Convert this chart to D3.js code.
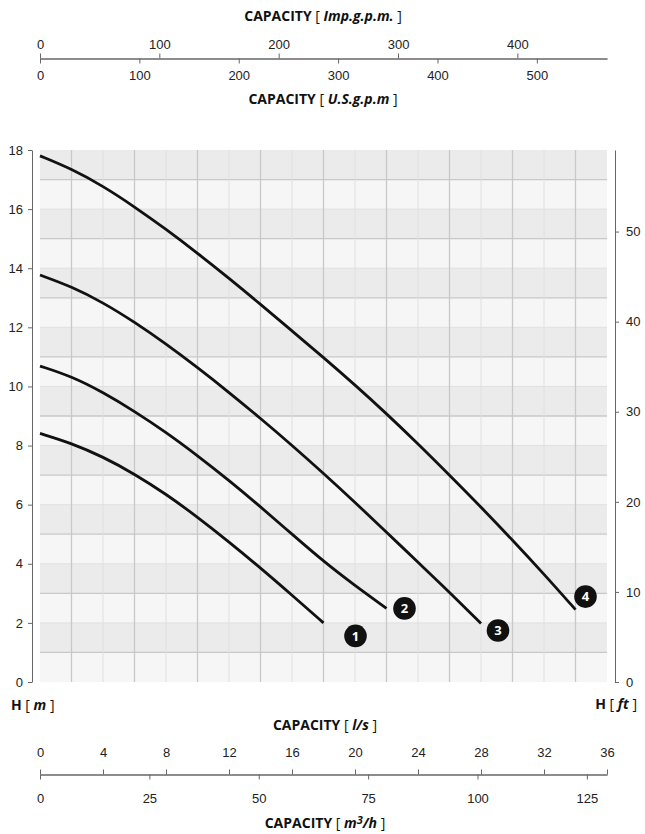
<!DOCTYPE html>
<html lang="en">
<head>
    <meta charset="UTF-8">
    <title>Pump curves - H / Q</title>
    <script src="https://cdnjs.cloudflare.com/ajax/libs/d3/7.8.5/d3.min.js"></script>
    <style>
        body {
            margin: 0;
            padding: 0;
            background: #fff;
            font-family: 'Open Sans', 'Noto Sans', Arial, sans-serif;
        }
        .tick text { font-size: 13px; fill: #222; }
        .axis path, .axis line { stroke: #666; stroke-width: 1; }
        .title { font-size: 14px; fill: #111; }
        .curve { fill: none; stroke: #111; stroke-width: 2.8; }
    </style>
</head>
<body>
<div id="chart"></div>
<script>
    // flow values in l/s, head values in m
    const q1 = [0, 2, 4, 6, 8, 10, 12, 14, 16, 18];
    const h1 = [8.41, 8.08, 7.62, 7.04, 6.36, 5.58, 4.74, 3.86, 2.94, 2.0];

    const q2 = [0, 2, 4, 6, 8, 10, 12, 14, 16, 18, 20, 22];
    const h2 = [10.69, 10.34, 9.8, 9.16, 8.45, 7.66, 6.82, 5.93, 5.0, 4.08, 3.26, 2.49];

    const q3 = [0, 2, 4, 6, 8, 10, 12, 14, 16, 18, 20, 22, 24, 26, 28];
    const h3 = [13.77, 13.38, 12.84, 12.18, 11.44, 10.64, 9.8, 8.92, 8.01, 7.06, 6.08, 5.07, 4.05, 3.04, 1.98];

    const q4 = [0, 2, 4, 6, 8, 10, 12, 14, 16, 18, 20, 22, 24, 26, 28, 30, 32, 34];
    const h4 = [17.8, 17.36, 16.78, 16.08, 15.32, 14.51, 13.66, 12.78, 11.88, 10.98, 10.05, 9.08, 8.06, 7.0, 5.92, 4.8, 3.65, 2.45];

    const curveNames = ["1", "2", "3", "4"];

    // tick labels of the five scales
    const impTicks = [0, 100, 200, 300, 400];
    const usTicks = [0, 100, 200, 300, 400, 500];
    const lsTicks = [0, 4, 8, 12, 16, 20, 24, 28, 32, 36];
    const m3hTicks = [0, 25, 50, 75, 100, 125];
    const mTicks = [0, 2, 4, 6, 8, 10, 12, 14, 16, 18];
    const ftTicks = [0, 10, 20, 30, 40, 50];

    const width = 645, height = 834;
    const plotLeft = 40, plotRight = 607, plotTop = 150, plotBottom = 682;

    const svg = d3.select("#chart").append("svg")
        .attr("width", width)
        .attr("height", height);

    // main scales (l/s and m), the others are unit conversions of these
    const qMax = 36, hMax = 18;
    const x = d3.scaleLinear().domain([0, qMax]).range([plotLeft, plotRight]);
    const y = d3.scaleLinear().domain([0, hMax]).range([plotBottom, plotTop]);
    const xImp = d3.scaleLinear().domain([0, qMax * 13.198]).range([plotLeft, plotRight]);
    const xUS = d3.scaleLinear().domain([0, qMax * 15.850]).range([plotLeft, plotRight]);
    const xM3 = d3.scaleLinear().domain([0, qMax * 3.6]).range([plotLeft, plotRight]);
    const yFt = d3.scaleLinear().domain([0, hMax / 0.3048]).range([plotBottom, plotTop]);

    // grid background: alternating bands of 1 m
    const grid = svg.append("g");
    grid.selectAll("rect")
        .data(d3.range(0, hMax))
        .enter().append("rect")
        .attr("x", plotLeft)
        .attr("width", plotRight - plotLeft)
        .attr("y", d => y(d + 1))
        .attr("height", d => y(d) - y(d + 1))
        .attr("fill", d => d % 2 === 1 ? "#ebebeb" : "#f6f6f6");

    grid.selectAll(".hline")
        .data(d3.range(1, hMax))
        .enter().append("line")
        .attr("class", "hline")
        .attr("x1", plotLeft).attr("x2", plotRight)
        .attr("y1", d => y(d)).attr("y2", d => y(d))
        .attr("stroke", d => d % 2 === 1 ? "#c8c8c8" : "#e0e0e0")
        .attr("stroke-width", d => d % 2 === 1 ? 1.3 : 1);

    grid.selectAll(".vline")
        .data(d3.range(2, qMax, 2))
        .enter().append("line")
        .attr("class", "vline")
        .attr("y1", plotTop).attr("y2", plotBottom)
        .attr("x1", d => x(d)).attr("x2", d => x(d))
        .attr("stroke", d => d % 4 === 2 ? "#c8c8c8" : "#e0e0e0")
        .attr("stroke-width", d => d % 4 === 2 ? 1.3 : 1);

    // curves
    const series = [[q1, h1], [q2, h2], [q3, h3], [q4, h4]];
    const line = d3.line()
        .x(d => x(d[0]))
        .y(d => y(d[1]))
        .curve(d3.curveBasis);

    svg.append("g").selectAll("path")
        .data(series)
        .enter().append("path")
        .attr("class", "curve")
        .attr("d", s => line(d3.zip(s[0], s[1])));

    // numbered badges next to the curve ends (pixel offsets)
    const badgeOffset = [[32, 13], [18, 0], [17, 7], [10, -13]];
    const badge = svg.append("g").selectAll("g")
        .data(series)
        .enter().append("g")
        .attr("transform", (s, i) => {
            const n = s[0].length - 1;
            return `translate(${x(s[0][n]) + badgeOffset[i][0]},${y(s[1][n]) + badgeOffset[i][1]})`;
        });
    badge.append("circle").attr("r", 11.3).attr("fill", "#111");
    badge.append("text")
        .attr("text-anchor", "middle")
        .attr("dy", "0.36em")
        .style("font-size", "13px")
        .style("font-weight", "bold")
        .style("fill", "#fff")
        .text((s, i) => curveNames[i]);

    // left and right head axes
    svg.append("g").attr("class", "axis")
        .attr("transform", "translate(32,0)")
        .call(d3.axisLeft(y).tickValues(mTicks).tickSize(4).tickSizeOuter(0).tickPadding(5));

    svg.append("g").attr("class", "axis")
        .attr("transform", "translate(615,0)")
        .call(d3.axisRight(yFt).tickValues(ftTicks).tickSize(4).tickSizeOuter(0).tickPadding(7));

    // top capacity axes
    svg.append("g").attr("class", "axis")
        .attr("transform", "translate(0,58.5)")
        .call(d3.axisTop(xImp).tickValues(impTicks).tickSize(5).tickSizeOuter(0).tickPadding(5));
    svg.append("g").attr("class", "axis")
        .attr("transform", "translate(0,58.5)")
        .call(d3.axisBottom(xUS).tickValues(usTicks).tickSize(5).tickSizeOuter(0).tickPadding(7));

    // bottom capacity axes
    svg.append("g").attr("class", "axis")
        .attr("transform", "translate(0,774.5)")
        .call(d3.axisTop(x).tickValues(lsTicks).tickSize(5).tickSizeOuter(0).tickPadding(13));
    svg.append("g").attr("class", "axis")
        .attr("transform", "translate(0,774.5)")
        .call(d3.axisBottom(xM3).tickValues(m3hTicks).tickSize(5).tickSizeOuter(0).tickPadding(14));

    // axis titles: bold word, italic unit
    function title(xPos, yPos, anchor, word, unit) {
        const t = svg.append("text")
            .attr("class", "title")
            .attr("x", xPos)
            .attr("y", yPos)
            .attr("text-anchor", anchor);
        t.append("tspan").style("font-weight", "bold").text(word);
        t.append("tspan").text("  [ ");
        unit.forEach(u => {
            t.append("tspan")
                .style("font-weight", "bold")
                .style("font-style", "italic")
                .style("font-size", u.sup ? "11px" : null)
                .attr("dy", u.dy || 0)
                .text(u.t);
        });
        t.append("tspan").text(" ]");
        return t;
    }

    title(323, 21, "middle", "CAPACITY", [{t: "Imp.g.p.m."}]);
    title(323, 104, "middle", "CAPACITY", [{t: "U.S.g.p.m"}]);
    title(325, 730, "middle", "CAPACITY", [{t: "l/s"}]);
    title(325, 828, "middle", "CAPACITY", [{t: "m"}, {t: "3", sup: true, dy: -4}, {t: "/h", dy: 4}]);
    title(11, 710, "start", "H", [{t: "m"}]);
    title(637, 709, "end", "H", [{t: "ft"}]);
</script>
</body>
</html>
